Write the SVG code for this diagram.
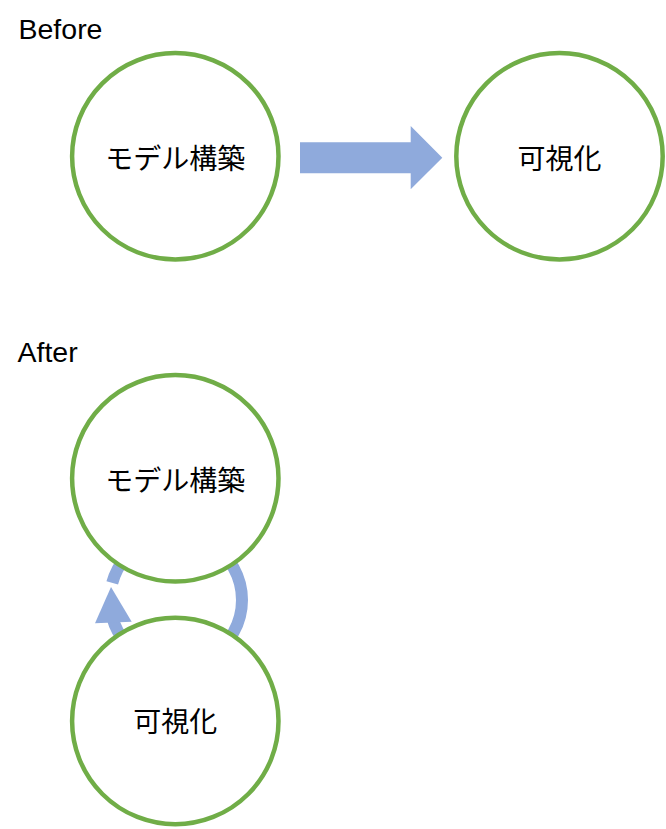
<svg xmlns="http://www.w3.org/2000/svg" width="666" height="829" viewBox="0 0 666 829">
  <style>
    .node { fill: #FFFFFF; stroke: #70AD47; stroke-width: 4.5; }
    .label { font-family: "Noto Sans CJK JP", "Noto Sans CJK SC", sans-serif; font-size: 28px; fill: #000000; text-anchor: middle; dominant-baseline: central; }
    .title { font-family: "Liberation Sans", Arial, sans-serif; font-size: 28.5px; fill: #000000; }
    .flow { fill: #8FAADC; stroke: none; }
    .arc { fill: none; stroke: #8FAADC; stroke-width: 12; }
  </style>
  <rect width="666" height="829" fill="#FFFFFF"/>
  <text class="title" x="18.5" y="39">Before</text>
  <text class="title" x="17.5" y="362">After</text>

  <g id="connectors">
    <polygon class="flow" points="300,142.3 410.7,142.3 410.7,126 442.3,157.7 410.7,189.3 410.7,173.3 300,173.3"/>
    <path class="arc" d="M 112.25 582.9 A 66 66 0 1 1 112.25 617.1"/>
    <polygon class="flow" points="111,587 95,623.3 131.7,621.7"/>
  </g>

  <g id="before-model">
    <circle class="node" cx="175.3" cy="156.3" r="103.2"/>
    <text class="label" x="175.3" y="157">モデル構築</text>
  </g>
  <g id="before-viz">
    <circle class="node" cx="559.5" cy="156.3" r="103.2"/>
    <text class="label" x="559.5" y="157">可視化</text>
  </g>
  <g id="after-model">
    <circle class="node" cx="175.3" cy="478.3" r="103.2"/>
    <text class="label" x="175.3" y="478.5">モデル構築</text>
  </g>
  <g id="after-viz">
    <circle class="node" cx="175.3" cy="721" r="103.2"/>
    <text class="label" x="175.3" y="719.5">可視化</text>
  </g>
</svg>
